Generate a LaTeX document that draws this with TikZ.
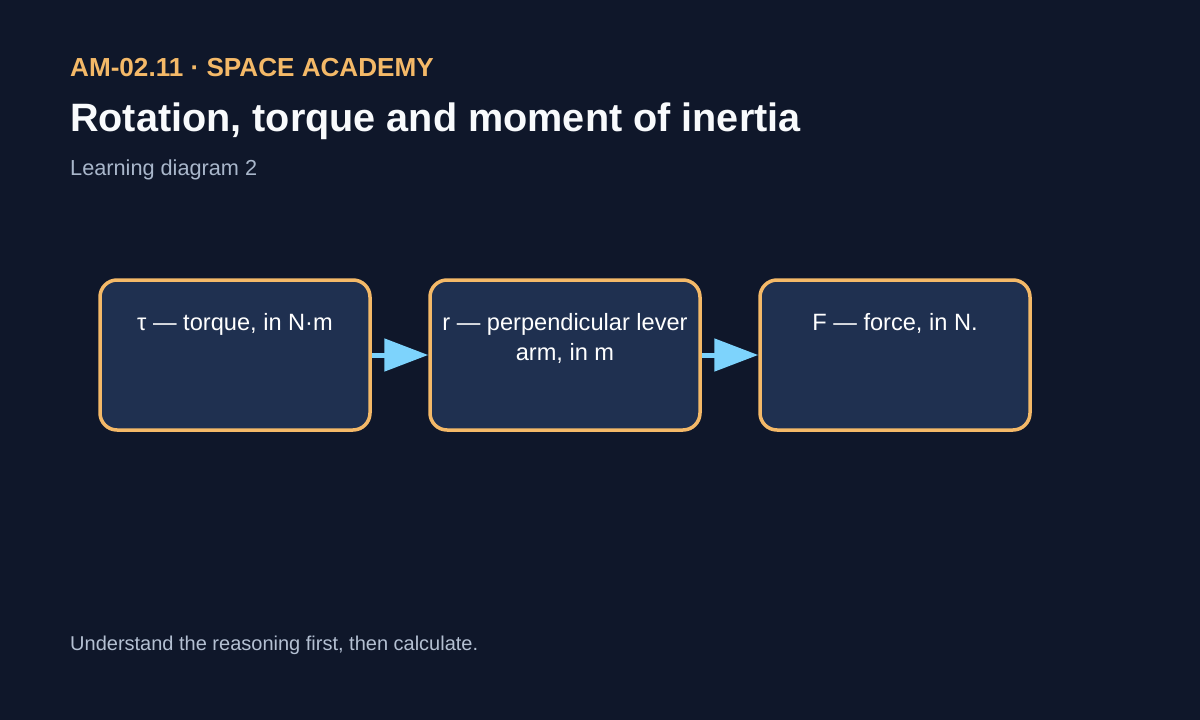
\documentclass[tikz,border=0pt]{standalone}
\usepackage{fontspec}
\setmainfont{Liberation Sans}
\usepackage{xcolor}
\usetikzlibrary{arrows.meta,positioning}
\definecolor{bgnavy}{HTML}{0F172A}
\definecolor{boxfill}{HTML}{1F3050}
\definecolor{amber}{HTML}{F4B968}
\definecolor{skyblue}{HTML}{7DD3FC}
\definecolor{titlewhite}{HTML}{F8FAFC}
\definecolor{mutedgray}{HTML}{A9B7CB}
\definecolor{notegray}{HTML}{B4C0D2}

\begin{document}
\begin{tikzpicture}[x=1pt,y=1pt,yscale=-1,xscale=1,
  conceptbox/.style={draw=amber,fill=boxfill,line width=3.5pt,rounded corners=17pt,minimum width=270pt,minimum height=150pt,inner sep=0pt},
  boxtext/.style={text=white,font=\fontsize{23.6}{30}\selectfont,align=center,inner sep=0pt},
  flowarrow/.style={draw=skyblue,line width=5pt,-{Triangle[length=44pt,width=32pt]}}]
%set diagram: 1200 wide, 720 high
\fill[bgnavy] (0,0) rectangle (1200,720);
\useasboundingbox (0,0) rectangle (1200,720);

% Text Node
\node (kicker) [anchor=base west,inner sep=0pt,text=amber,font=\bfseries\fontsize{26.1}{30}\selectfont] at (70,76) {AM-02.11 · SPACE ACADEMY};
% Text Node
\node (title) [anchor=base west,inner sep=0pt,text=titlewhite,font=\bfseries\fontsize{39.6}{46}\selectfont] at (70,131) {Rotation, torque and moment of inertia};
% Text Node
\node (subtitle) [anchor=base west,inner sep=0pt,text=mutedgray,font=\fontsize{21.7}{26}\selectfont] at (70,175) {Learning diagram 2};

%Shape: Rounded Rectangle
\node (tau) [conceptbox] at (235,355) {};
%Shape: Rounded Rectangle
\node (lever) [conceptbox] at (565,355) {};
%Shape: Rounded Rectangle
\node (force) [conceptbox] at (895,355) {};

% Text Node
\node (taulabel) [boxtext,below=35pt of tau.north] {τ — torque, in N·m};
% Text Node
\node (leverlabel) [boxtext,below=35pt of lever.north] {r — perpendicular lever\\arm, in m};
% Text Node
\node (forcelabel) [boxtext,below=35pt of force.north] {F — force, in N.};

%Straight Lines
\draw [flowarrow] (tau.east) -- (lever.west);
%Straight Lines
\draw [flowarrow] (lever.east) -- (force.west);

% Text Node
\node (footnote) [anchor=base west,inner sep=0pt,text=notegray,font=\fontsize{20}{24}\selectfont] at (70,650) {Understand the reasoning first, then calculate.};

\end{tikzpicture}
\end{document}
